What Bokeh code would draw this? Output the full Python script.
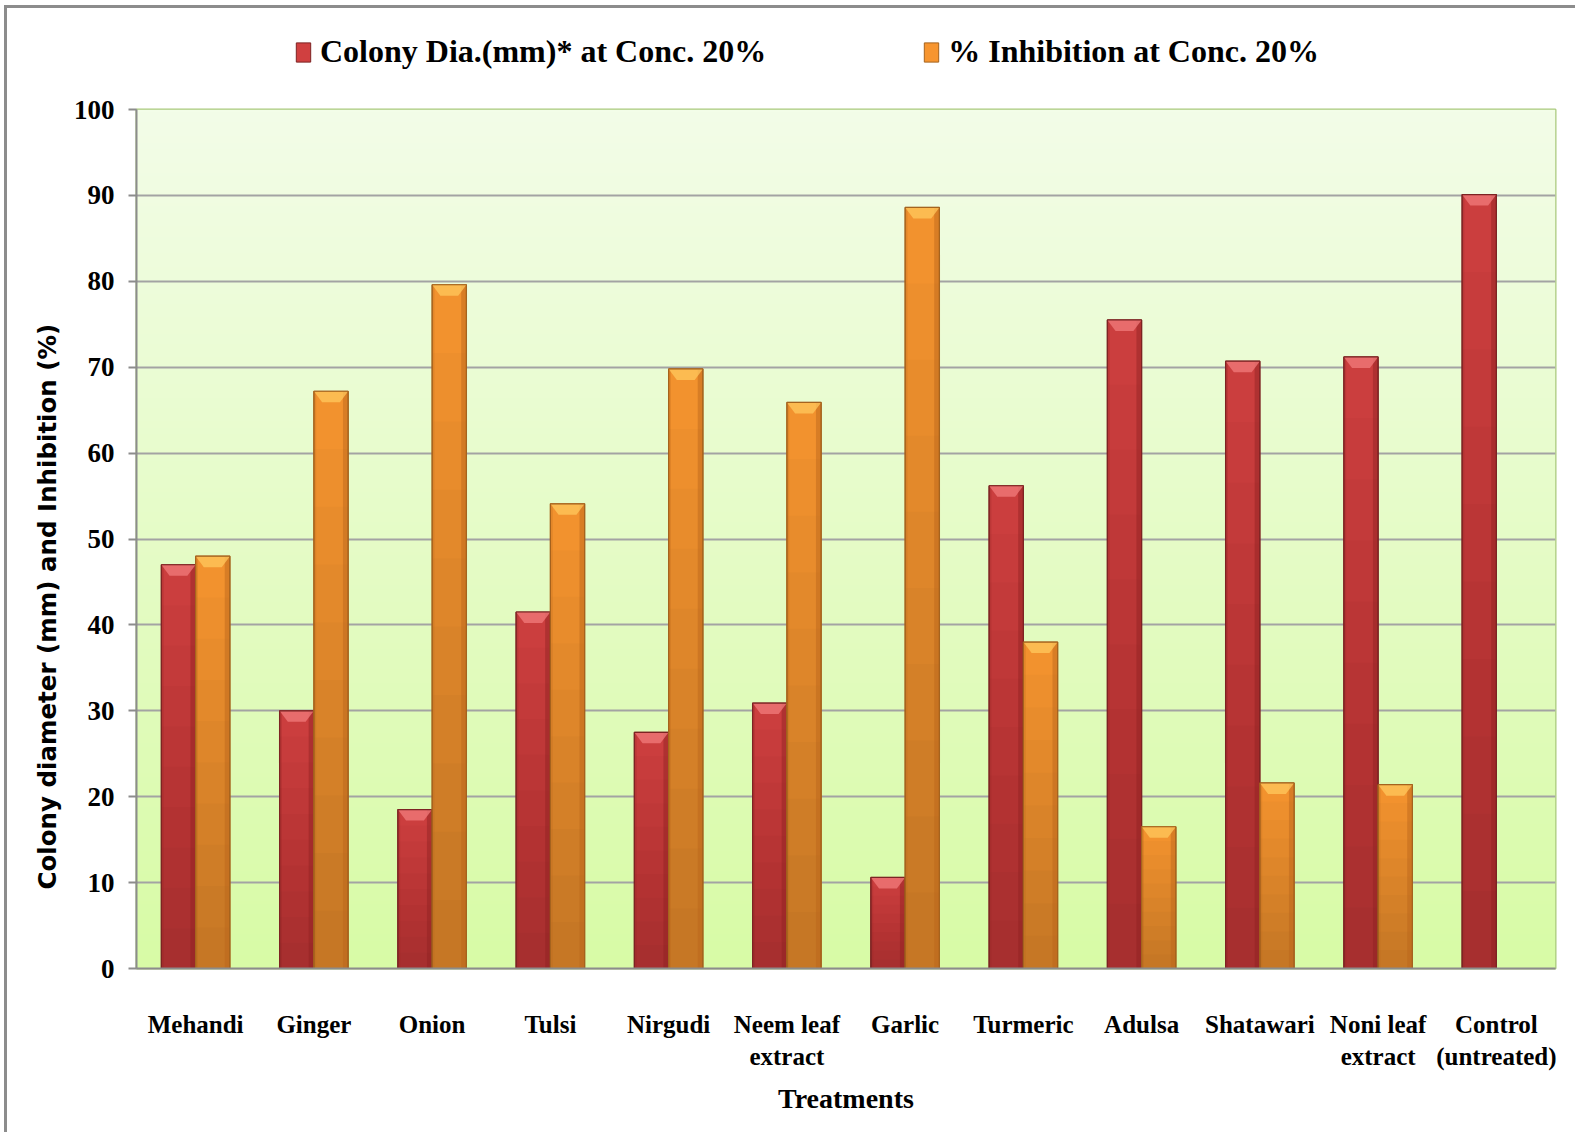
import numpy as np
from bokeh.plotting import figure
from bokeh.layouts import column
from bokeh.models import Range1d, FixedTicker, Legend, LegendItem, Title
from bokeh.embed import file_html
from bokeh.resources import INLINE

# ---------------- data ----------------
treatments = ["Mehandi", "Ginger", "Onion", "Tulsi", "Nirgudi", "Neem leaf\nextract",
              "Garlic", "Turmeric", "Adulsa", "Shatawari", "Noni leaf\nextract",
              "Control\n(untreated)"]
colony_dia = [47.0, 30.0, 18.5, 41.5, 27.5, 30.9, 10.6, 56.2, 75.5, 70.7, 71.2, 90.1]
inhibition = [48.0, 67.2, 79.6, 54.1, 69.8, 65.9, 88.6, 38.0, 16.5, 21.6, 21.4, 0.0]
series_names = ["Colony Dia.(mm)* at Conc. 20%", "% Inhibition at Conc. 20%"]
y_ticks = [0, 10, 20, 30, 40, 50, 60, 70, 80, 90, 100]
x_title = "Treatments"
y_title = "Colony diameter (mm) and Inhibition (%)"

W = 1568
LEG_H = 81
H = 1124 - LEG_H
n = len(treatments)
centers = np.arange(n) + 0.5
bw = 0.29
series_vals = [np.array(colony_dia), np.array(inhibition)]
series_x = [centers - bw / 2, centers + bw / 2]

series_style = [
    dict(main="#d04040", dark="#8e2222", light="#f27c7c", edge="#7d2323"),
    dict(main="#f7952f", dark="#b9641a", light="#ffc85e", edge="#a5631e"),
]

# ---------------- legend strip (same series, drawn out of view; only its legend shows) ----------------
leg_fig = figure(width=W, height=LEG_H, x_range=Range1d(0, n), y_range=Range1d(500, 501),
                 output_backend="svg", toolbar_location=None,
                 min_border_left=0, min_border_right=0, min_border_top=0, min_border_bottom=0)
leg_fig.axis.visible = False
leg_fig.grid.visible = False
leg_fig.outline_line_color = None
leg_fig.background_fill_color = "white"
leg_fig.border_fill_color = "white"
leg_items = []
for vals, xs, st, name in zip(series_vals, series_x, series_style, series_names):
    r = leg_fig.vbar(x=xs, top=vals, width=bw, fill_color=st["main"], line_color=st["edge"], line_width=1)
    leg_items.append(LegendItem(label=name, renderers=[r]))
legend = Legend(items=leg_items, orientation="horizontal", location=(158, 19),
                spacing=156, glyph_width=18, glyph_height=24, label_standoff=8,
                label_width=446,
                label_text_font="Liberation Serif", label_text_font_style="bold",
                label_text_font_size="32px", label_text_color="black",
                background_fill_alpha=0, border_line_color=None, padding=0, margin=0)
leg_fig.add_layout(legend)

# ---------------- main chart ----------------
p = figure(width=W, height=H, x_range=Range1d(0, n), y_range=Range1d(0, 100),
           output_backend="svg", toolbar_location=None,
           min_border_left=129, min_border_right=20, min_border_top=20, min_border_bottom=164)
p.background_fill_color = "#e6fcc8"
p.border_fill_color = "white"
p.outline_line_color = "#a9c97c"
p.outline_line_width = 2

# background gradient of the plot area
N = 256
t = np.linspace(0, 1, N)
bot = np.array([0xd8, 0xfb, 0xa6]); top = np.array([0xf3, 0xfd, 0xe8])
cols = (bot[None, :] * (1 - t[:, None]) + top[None, :] * t[:, None]).astype(np.uint32)
img = np.empty((N, 1), dtype=np.uint32)
view = img.view(dtype=np.uint8).reshape((N, 1, 4))
view[:, 0, 0] = cols[:, 0]; view[:, 0, 1] = cols[:, 1]; view[:, 0, 2] = cols[:, 2]; view[:, 0, 3] = 255
p.image_rgba(image=[img], x=0, y=0, dw=n, dh=100, level="image")

# grid / axes
p.xgrid.visible = False
p.ygrid.grid_line_color = "#a3a3a3"
p.ygrid.grid_line_width = 2
p.ygrid.ticker = FixedTicker(ticks=y_ticks)

p.yaxis.ticker = FixedTicker(ticks=y_ticks)
p.yaxis.minor_tick_line_color = None
p.yaxis.axis_line_color = "#8c8c8c"
p.yaxis.axis_line_width = 2
p.yaxis.major_tick_line_color = "#8c8c8c"
p.yaxis.major_tick_line_width = 2
p.yaxis.major_tick_out = 8
p.yaxis.major_tick_in = 0
p.yaxis.major_label_standoff = 14
p.yaxis.major_label_text_font = "Liberation Serif"
p.yaxis.major_label_text_font_style = "bold"
p.yaxis.major_label_text_font_size = "27px"
p.yaxis.major_label_text_color = "black"

ytitle = Title(text=y_title, align="left", offset=79, standoff=18,
               text_font="DejaVu Sans", text_font_style="bold", text_font_size="24.5px",
               text_color="black")
p.add_layout(ytitle, "left")

p.xaxis.ticker = FixedTicker(ticks=list(centers))
p.xaxis.major_label_overrides = {float(c): lab for c, lab in zip(centers, treatments)}
p.xaxis.minor_tick_line_color = None
p.xaxis.major_tick_line_color = None
p.xaxis.axis_line_color = "#8c8c8c"
p.xaxis.axis_line_width = 2
p.xaxis.major_label_standoff = 36
p.xaxis.major_label_text_font = "Liberation Serif"
p.xaxis.major_label_text_font_style = "bold"
p.xaxis.major_label_text_font_size = "25px"
p.xaxis.major_label_text_color = "black"
p.xaxis.axis_label = x_title
p.xaxis.axis_label_text_font = "Liberation Serif"
p.xaxis.axis_label_text_font_style = "bold"
p.xaxis.axis_label_text_font_size = "28px"
p.xaxis.axis_label_text_color = "black"
p.xaxis.axis_label_standoff = 10

# bars
unit_px = 859 / 100.0
bevel_h = 11 / unit_px
for vals, xs, st in zip(series_vals, series_x, series_style):
    keep = vals > 0
    v = vals[keep]; x = xs[keep]
    p.vbar(x=x, top=v, width=bw, fill_color=st["main"], line_color=st["edge"], line_width=1)
    for k in range(1, 11):
        p.vbar(x=x, top=v * k / 10.0, width=bw, fill_color="black", fill_alpha=0.02, line_color=None)
    p.vbar(x=x + bw / 2 - 0.022, top=v, width=0.044, fill_color=st["dark"], fill_alpha=0.45, line_color=None)
    p.vbar(x=x - bw / 2 + 0.01, top=v, width=0.02, fill_color=st["dark"], fill_alpha=0.25, line_color=None)
    inset = bw * 0.24
    xs_b = [[xi - bw / 2, xi + bw / 2, xi + bw / 2 - inset, xi - bw / 2 + inset] for xi in x]
    ys_b = [[vi, vi, vi - bevel_h, vi - bevel_h] for vi in v]
    p.patches(xs=xs_b, ys=ys_b, fill_color=st["light"], fill_alpha=0.75, line_color=None)
    p.vbar(x=x, top=v, width=bw, fill_color=None, line_color=st["edge"], line_width=1.2)

layout = column(leg_fig, p, spacing=0,
                styles={"margin-left": "4px", "margin-top": "5px",
                        "border-left": "3px solid #8c8c8c", "border-top": "3px solid #8c8c8c"})

open("out.html", "w").write(file_html(layout, INLINE))
